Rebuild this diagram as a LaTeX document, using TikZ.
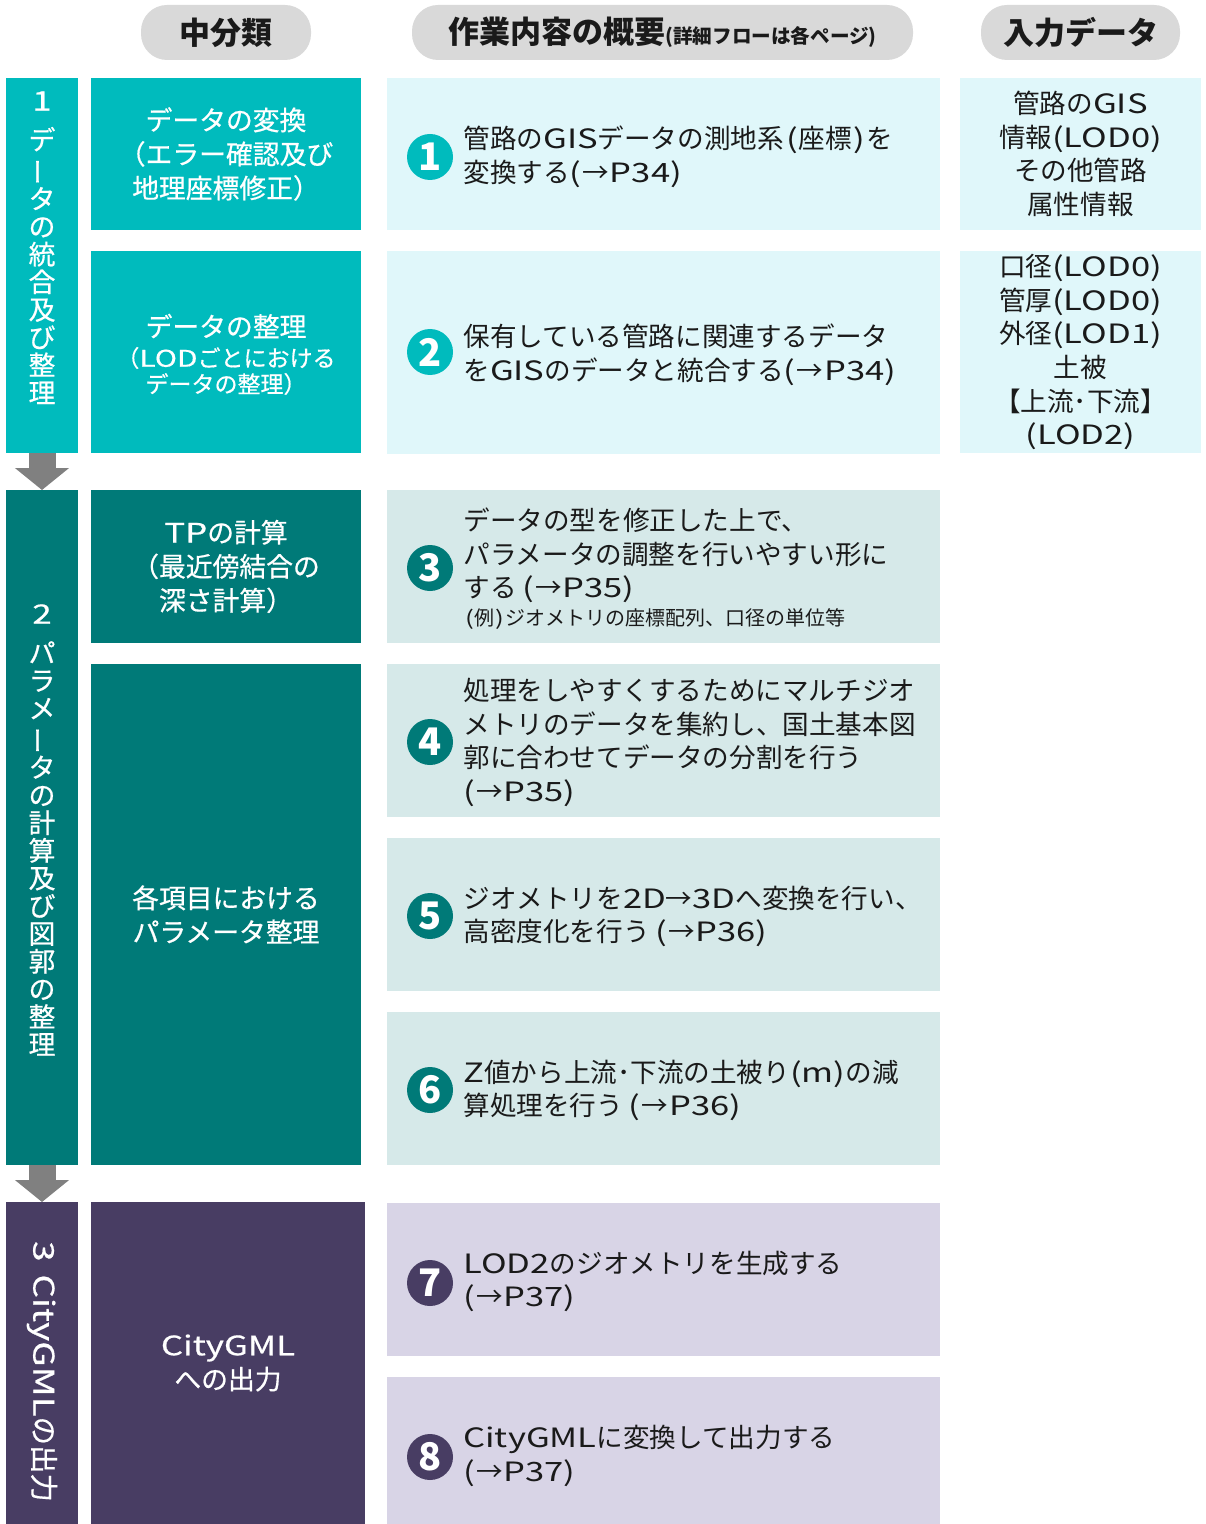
\documentclass[tikz,border=0pt]{standalone}
\usepackage{fontspec}
\setmainfont{Noto Sans CJK JP}
\newfontfamily\medfont[FakeBold=0.6]{Noto Sans CJK JP}
\newfontfamily\latf[FakeStretch=1.3]{Noto Sans CJK JP}
\newfontfamily\latfm[FakeStretch=1.3,FakeBold=0.6]{Noto Sans CJK JP}
\newcommand{\lt}[1]{{\latf #1}}
\newcommand{\ltm}[1]{{\latfm #1}}
\newcommand{\lp}{\kern0.08em\lt{(}\kern0.04em}
\newcommand{\rp}{\kern0.04em\lt{)}\kern0.08em}
\newcommand{\pref}[1]{\lt{(}\kern0.05em→\kern0.02em\lt{P#1)}}
\usetikzlibrary{arrows.meta}
\definecolor{tealA}{RGB}{0,187,189}
\definecolor{tealB}{RGB}{0,122,120}
\definecolor{purp}{RGB}{72,61,99}
\definecolor{lcyan}{RGB}{224,247,250}
\definecolor{lteal}{RGB}{214,233,233}
\definecolor{lpurp}{RGB}{216,212,230}
\definecolor{pillg}{RGB}{217,217,217}
\definecolor{arrg}{RGB}{128,128,128}
\definecolor{ink}{RGB}{26,26,26}
\newcommand{\fsmain}{\fontsize{13.3}{16.85}\selectfont}
\newcommand{\fsbox}{\fontsize{13.4}{17}\selectfont}
\newcommand{\vbarchar}{\rotatebox[origin=c]{90}{ー}}
\begin{document}
\begin{tikzpicture}[x=0.5pt,y=-0.5pt,
  blk/.style={draw=none,inner sep=0pt,outer sep=0pt},
  pill/.style={blk,fill=pillg,rounded corners=13pt,minimum height=27.5pt,text=ink,font=\bfseries\fontsize{15.5}{15.5}\selectfont},
  barbox/.style={blk,minimum width=36pt},
  midbox/.style={blk,minimum width=135pt,text=white,align=center,font=\medfont\fsbox},
  workbox/.style={blk,minimum width=276.5pt},
  inbox/.style={blk,fill=lcyan,minimum width=120.5pt,align=center,text=ink,font=\fsmain},
  worktext/.style={inner sep=0pt,anchor=west,align=left,text=ink,font=\fsmain},
  numc/.style={circle,fill=#1,text=white,minimum size=23pt,inner sep=0pt,font=\bfseries\fontsize{19}{19}\selectfont},
  vtext/.style={inner sep=0pt,align=center,text=white,font=\medfont\fontsize{13.4}{13.85}\selectfont},
  flowarrow/.style={draw=arrg,line width=13.5pt,-{Triangle[width=26.5pt,length=11pt]}}
]
\useasboundingbox (0,0) rectangle (1205,1524);

% headers
\node[pill,minimum width=85pt] (h1) at (226,32.5) {中分類};
\node[pill,minimum width=250.5pt] (h2) at (662.5,32.5) {作業内容の概要{\fontsize{9.8}{10}\selectfont (詳細フローは各ページ)}};
\node[pill,minimum width=99.5pt] (h3) at (1080.5,32.5) {入力データ};

% left bars
\node[barbox,fill=tealA,minimum height=187.5pt] (bar1) at (42,265.5) {};
\node[barbox,fill=tealB,minimum height=337.5pt] (bar2) at (42,827.5) {};
\node[barbox,fill=purp,minimum height=161pt] (bar3) at (42,1363) {};
\draw[flowarrow] (bar1.south) -- (bar2.north);
\draw[flowarrow] (bar2.south) -- (bar3.north);

\node[vtext] (v1n) at (42,101) {\ltm{1}};
\node[vtext] (v1) at (42,265.5) {デ\\\vbarchar\\タ\\の\\統\\合\\及\\び\\整\\理};
\node[vtext] (v2n) at (42,614) {\ltm{2}};
\node[vtext] (v2) at (42,848.5) {パ\\ラ\\メ\\\vbarchar\\タ\\の\\計\\算\\及\\び\\図\\郭\\の\\整\\理};
\node[vtext,rotate=-90,font=\medfont\fontsize{14.2}{15}\selectfont] (v3) at (42,1371.5) {\ltm{3\hspace{0.45em}CityGML}の出力};

% middle column
\node[midbox,fill=tealA,minimum height=76pt] (mA) at (226,154) {データの変換\\（エラー確認及び\\地理座標修正）};
\node[midbox,fill=tealA,minimum height=101pt] (mB) at (226,352) {};
\node[inner sep=0pt,text=white,font=\medfont\fsbox] (mBt1) at (226,326) {データの整理};
\node[inner sep=0pt,text=white,align=center,font=\medfont\fontsize{11.5}{13}\selectfont] (mBt2) at (226,371) {（\ltm{LOD}ごとにおける\\データの整理）};
\node[midbox,fill=tealB,minimum height=76.5pt] (mC) at (226,566.5) {\ltm{TP}の計算\\（最近傍結合の\\深さ計算）};
\node[midbox,fill=tealB,minimum height=250.5pt] (mD) at (226,914.5) {各項目における\\パラメータ整理};
\node[midbox,fill=purp,minimum width=137pt,minimum height=161pt] (mE) at (228,1363) {\ltm{CityGML}\\への出力};

% work column boxes
\node[workbox,fill=lcyan,minimum height=76pt] (w1) at (663.5,154) {};
\node[workbox,fill=lcyan,minimum height=101.5pt] (w2) at (663.5,352.5) {};
\node[workbox,fill=lteal,minimum height=76.5pt] (w3) at (663.5,566.5) {};
\node[workbox,fill=lteal,minimum height=76.5pt] (w4) at (663.5,740.5) {};
\node[workbox,fill=lteal,minimum height=76.5pt] (w5) at (663.5,914.5) {};
\node[workbox,fill=lteal,minimum height=76.5pt] (w6) at (663.5,1088.5) {};
\node[workbox,fill=lpurp,minimum height=76.5pt] (w7) at (663.5,1279.5) {};
\node[workbox,fill=lpurp,minimum height=73.5pt] (w8) at (663.5,1450.5) {};

% numbers
\node[numc=tealA] (n1) at (430,157) {1};
\node[numc=tealA] (n2) at (430,352) {2};
\node[numc=tealB] (n3) at (430,568) {3};
\node[numc=tealB] (n4) at (430,742) {4};
\node[numc=tealB] (n5) at (430,916) {5};
\node[numc=tealB] (n6) at (430,1090) {6};
\node[numc=purp] (n7) at (430,1283) {7};
\node[numc=purp] (n8) at (430,1457) {8};

% work texts
\node[worktext] (t1) at (463,156.5) {管路の\lt{GIS}データの測地系\lp 座標\rp を\\変換する\pref{34}};
\node[worktext] (t2) at (463,355) {保有している管路に関連するデータ\\を\lt{GIS}のデータと統合する\pref{34}};
\node[worktext] (t3) at (463,555.5) {データの型を修正した上で、\\パラメータの調整を行いやすい形に\\する \pref{35}};
\node[worktext,font=\fontsize{10}{12}\selectfont] (t3s) at (463,619) {\lp 例\rp ジオメトリの座標配列、口径の単位等};
\node[worktext] (t4) at (463,742.5) {処理をしやすくするためにマルチジオ\\メトリのデータを集約し、国土基本図\\郭に合わせてデータの分割を行う\\\pref{35}};
\node[worktext] (t5) at (463,916.5) {ジオメトリを\lt{2D}→\lt{3D}へ変換を行い、\\高密度化を行う \pref{36}};
\node[worktext] (t6) at (463,1090.5) {\lt{Z}値から上流･下流の土被り\lt{(m)}の減\\算処理を行う \pref{36}};
\node[worktext] (t7) at (463,1281.5) {\lt{LOD2}のジオメトリを生成する\\\pref{37}};
\node[worktext] (t8) at (463,1456) {\lt{CityGML}に変換して出力する\\\pref{37}};

% input column
\node[inbox,minimum height=76pt] (i1) at (1080.5,154) {管路の\lt{GIS}\\情報\lt{(LOD0)}\\その他管路\\属性情報};
\node[inbox,minimum height=101pt] (i2) at (1080.5,352) {口径\lt{(LOD0)}\\管厚\lt{(LOD0)}\\外径\lt{(LOD1)}\\土被\\【上流･下流】\\\lt{(LOD2)}};
\end{tikzpicture}
\end{document}
